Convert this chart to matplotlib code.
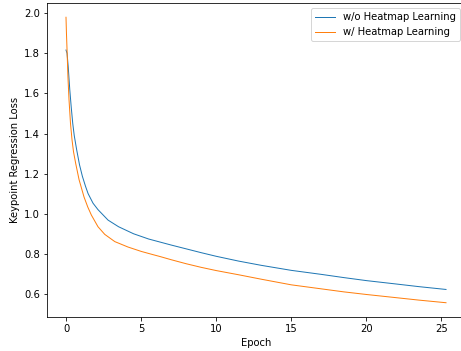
import matplotlib
matplotlib.use("Agg")
import matplotlib.pyplot as plt

# values
epoch_wo = [0.0, 0.07, 0.15, 0.25, 0.35, 0.45, 0.55, 0.71, 0.9, 1.09, 1.3, 1.47, 1.8, 2.13,
            2.8, 3.5, 4.5, 5.5, 6.25, 7.0, 8.0, 9.0, 10.0, 11.5, 13.0, 15.0, 17.0,
            18.5, 20.0, 22.0, 23.5, 25.3]
loss_wo = [1.816, 1.800, 1.73, 1.62, 1.53, 1.45, 1.39, 1.32, 1.245, 1.188, 1.138, 1.102,
           1.054, 1.022, 0.970, 0.937, 0.902, 0.876, 0.861, 0.846, 0.827, 0.808, 0.790,
           0.766, 0.745, 0.720, 0.700, 0.684, 0.669, 0.652, 0.639, 0.625]

epoch_w = [0.0, 0.03, 0.07, 0.13, 0.2, 0.3, 0.4, 0.5, 0.65, 0.87, 1.2, 1.45, 1.69, 2.13,
           2.58, 3.25, 4.13, 5.02, 5.8, 6.25, 7.0, 8.0, 9.0, 10.0, 11.5, 13.0, 15.0,
           17.0, 18.5, 20.0, 22.0, 23.5, 25.3]
loss_w = [1.979, 1.90, 1.816, 1.68, 1.57, 1.45, 1.37, 1.31, 1.25, 1.171, 1.085, 1.035,
          0.995, 0.937, 0.899, 0.863, 0.836, 0.814, 0.798, 0.789, 0.773, 0.753, 0.735,
          0.719, 0.698, 0.676, 0.648, 0.628, 0.613, 0.600, 0.584, 0.572, 0.559]

fig = plt.figure(figsize=(461/72, 351/72), dpi=72)
ax = fig.add_axes([47/461, 34/351, 418/461, 314/351])

ax.plot(epoch_wo, loss_wo, lw=1.0, label="w/o Heatmap Learning")
ax.plot(epoch_w, loss_w, lw=1.0, label="w/ Heatmap Learning")

ax.set_xlabel("Epoch")
ax.set_ylabel("Keypoint Regression Loss")
ax.legend(loc="upper right")

fig.savefig("out.png", dpi=72)
